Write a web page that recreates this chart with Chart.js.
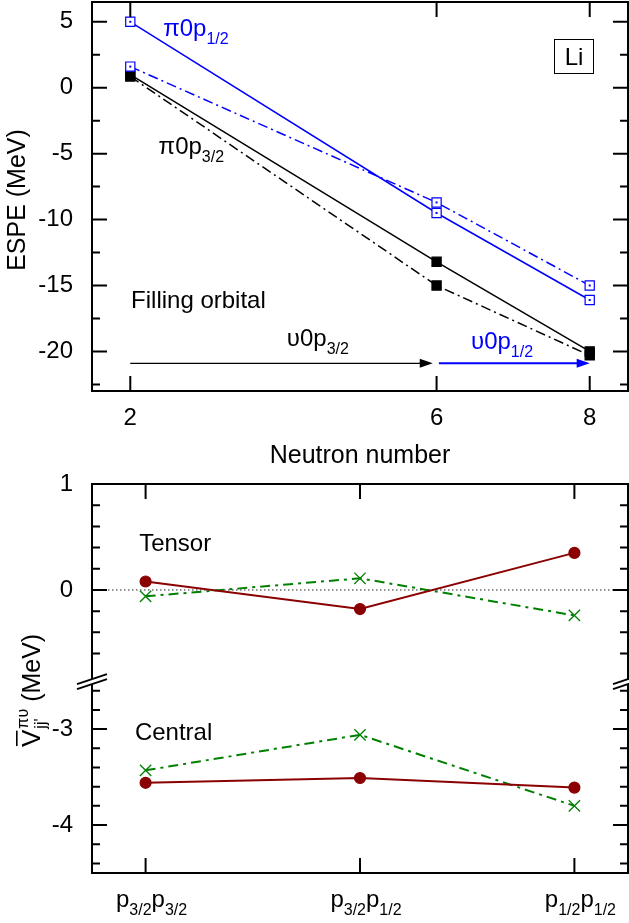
<!DOCTYPE html>
<html>
<head>
<meta charset="utf-8">
<script src="https://cdn.jsdelivr.net/npm/chart.js@4.4.1/dist/chart.umd.min.js"></script>
<style>
html, body { margin: 0; padding: 0; background: #fff; }
#wrap { position: relative; width: 629px; height: 923px; }
#top { position: absolute; left: 0; top: 0; }
#bottom { position: absolute; left: 0; top: 430px; }
</style>
</head>
<body>
<div id="wrap">
<canvas id="top" width="629" height="470"></canvas>
<canvas id="bottom" width="629" height="493"></canvas>
</div>
<script>
// Top panel: ESPE of Li vs neutron number
const neutronNumbers = [2, 6, 8];
const pi12Solid = [5.0, -9.5, -16.1];
const pi12DashDot = [1.6, -8.7, -15.0];
const pi32Solid = [1.0, -13.2, -20.0];
const pi32DashDot = [0.85, -15.0, -20.3];
const topXTicks = [2, 6, 8];
const topYTicks = [5, 0, -5, -10, -15, -20];
const topYMinor = [2.5, -2.5, -7.5, -12.5, -17.5, -22.5];

// Bottom panel: monopole matrix elements per orbital pair
const pairs = ['p_{3/2}p_{3/2}', 'p_{3/2}p_{1/2}', 'p_{1/2}p_{1/2}'];
const tensorSolid = [0.08, -0.18, 0.35];
const tensorDashDot = [-0.06, 0.11, -0.24];
const centralSolid = [-3.56, -3.51, -3.61];
const centralDashDot = [-3.43, -3.06, -3.80];
const tensorTicks = [1, 0];
const tensorMinor = [0.8, 0.6, 0.4, 0.2, -0.2, -0.4, -0.6];
const centralTicks = [-3, -4];
const centralMinor = [-2.6, -2.8, -3.2, -3.4, -3.6, -3.8, -4.2, -4.4];

const FONT = '"Liberation Sans", Arial, Helvetica, sans-serif';
const BLUE = '#0000ff', RED = '#8b0000', GREEN = '#008000';
Chart.defaults.font.family = FONT;
Chart.defaults.color = '#000';

const xy = (xs, ys) => xs.map((x, i) => ({ x: x, y: ys[i] }));
const pairIndex = pairs.map((p, i) => i);

function series(data, color, extra) {
    return Object.assign({
        data: data, showLine: true, borderColor: color, borderWidth: 1.5,
        pointBorderColor: color, pointBackgroundColor: color, pointBorderWidth: 1.2
    }, extra);
}

// text with _{sub} and ^{sup} parts
function drawRich(ctx, str, x, y, size, color, align) {
    const small = Math.round(size * 0.68);
    const parts = str.split(/(_\{[^}]*\}|\^\{[^}]*\})/).filter(s => s).map(s => {
        if (s.startsWith('_{')) return { t: s.slice(2, -1), k: 1 };
        if (s.startsWith('^{')) return { t: s.slice(2, -1), k: -1 };
        return { t: s, k: 0 };
    });
    let w = 0;
    parts.forEach(p => {
        ctx.font = (p.k ? small : size) + 'px ' + FONT;
        p.w = ctx.measureText(p.t).width;
        w += p.w;
    });
    let cx = align === 'center' ? x - w / 2 : x;
    ctx.save();
    ctx.fillStyle = color;
    ctx.textAlign = 'left';
    ctx.textBaseline = 'alphabetic';
    parts.forEach(p => {
        ctx.font = (p.k ? small : size) + 'px ' + FONT;
        const dy = p.k === 1 ? size * 0.33 : p.k === -1 ? -size * 0.45 : 0;
        ctx.fillText(p.t, cx, y + dy);
        cx += p.w;
    });
    ctx.restore();
}

function drawFrame(chart, xTicks, yAxes) {
    const ctx = chart.ctx, a = chart.chartArea, xs = chart.scales.x;
    ctx.save();
    ctx.strokeStyle = '#000';
    ctx.lineWidth = 2;
    ctx.strokeRect(a.left, a.top, a.right - a.left, a.bottom - a.top);
    ctx.beginPath();
    xTicks.forEach(v => {
        const px = xs.getPixelForValue(v);
        ctx.moveTo(px, a.bottom); ctx.lineTo(px, a.bottom - 15);
        ctx.moveTo(px, a.top); ctx.lineTo(px, a.top + 15);
    });
    yAxes.forEach(ax => {
        const mark = (v, len) => {
            const py = ax.s.getPixelForValue(v);
            ctx.moveTo(a.left, py); ctx.lineTo(a.left + len, py);
            ctx.moveTo(a.right, py); ctx.lineTo(a.right - len, py);
        };
        ax.major.forEach(v => mark(v, 15));
        ax.minor.forEach(v => mark(v, 8));
    });
    ctx.stroke();
    ctx.restore();
}

function arrow(ctx, x1, x2, y, color, w) {
    ctx.save();
    ctx.strokeStyle = color;
    ctx.fillStyle = color;
    ctx.lineWidth = w;
    ctx.beginPath();
    ctx.moveTo(x1, y); ctx.lineTo(x2 - 10, y);
    ctx.stroke();
    ctx.beginPath();
    ctx.moveTo(x2, y); ctx.lineTo(x2 - 13, y - 4.5); ctx.lineTo(x2 - 13, y + 4.5);
    ctx.closePath();
    ctx.fill();
    ctx.restore();
}

const topDecor = {
    id: 'topDecor',
    afterDraw(chart) {
        const ctx = chart.ctx, a = chart.chartArea;
        const xs = chart.scales.x, ys = chart.scales.y;
        const X = v => xs.getPixelForValue(v), Y = v => ys.getPixelForValue(v);
        drawFrame(chart, topXTicks, [{ s: ys, major: topYTicks, minor: topYMinor }]);
        // dot in the middle of the open squares
        ctx.fillStyle = BLUE;
        [0, 1].forEach(i => chart.getDatasetMeta(i).data.forEach(p => ctx.fillRect(p.x - 1, p.y - 1, 2, 2)));

        drawRich(ctx, '\u03c00p_{1/2}', X(2.43), Y(3.9), 24, BLUE);
        drawRich(ctx, '\u03c00p_{3/2}', X(2.37), Y(-5.0), 24, '#000');
        drawRich(ctx, 'Filling orbital', X(2.01), Y(-16.7), 24, '#000');
        drawRich(ctx, '\u03c50p_{3/2}', X(4.45), Y(-19.6), 24, '#000', 'center');
        drawRich(ctx, '\u03c50p_{1/2}', X(6.45), Y(-19.8), 24, BLUE);
        arrow(ctx, X(2), X(5.95), Y(-20.9), '#000', 1.3);
        arrow(ctx, X(6.03), X(8), Y(-20.9), BLUE, 2);

        // Li box
        ctx.save();
        ctx.strokeStyle = '#000';
        ctx.lineWidth = 1;
        ctx.strokeRect(a.right - 73.5, a.top + 37.5, 39, 34);
        ctx.fillStyle = '#000';
        ctx.font = '24px ' + FONT;
        ctx.textAlign = 'center';
        ctx.textBaseline = 'alphabetic';
        ctx.fillText('Li', a.right - 54, a.top + 63);
        // axis titles
        ctx.font = '25px ' + FONT;
        ctx.fillText('Neutron number', (a.left + a.right) / 2, 463);
        ctx.translate(25, 200);
        ctx.rotate(-Math.PI / 2);
        ctx.fillText('ESPE (MeV)', 0, 0);
        ctx.restore();
    }
};

new Chart(document.getElementById('top'), {
    type: 'scatter',
    data: {
        datasets: [
            series(xy(neutronNumbers, pi12Solid), BLUE, { pointStyle: 'rect', pointRadius: 6.5, pointBackgroundColor: '#fff' }),
            series(xy(neutronNumbers, pi12DashDot), BLUE, { borderDash: [10, 4, 2, 4], pointStyle: 'rect', pointRadius: 6.5, pointBackgroundColor: '#fff' }),
            series(xy(neutronNumbers, pi32Solid), '#000', { pointStyle: 'rect', pointRadius: 6.5 }),
            series(xy(neutronNumbers, pi32DashDot), '#000', { borderDash: [10, 4, 2, 4], pointStyle: 'rect', pointRadius: 6.5 })
        ]
    },
    options: {
        responsive: false,
        animation: false,
        devicePixelRatio: 1,
        layout: { autoPadding: false, padding: { top: 2, right: 1, left: 0, bottom: 0 } },
        plugins: { legend: { display: false }, tooltip: { enabled: false } },
        scales: {
            x: {
                type: 'linear', min: 1.5, max: 8.5,
                afterBuildTicks: s => { s.ticks = topXTicks.map(v => ({ value: v })); },
                afterFit: s => { s.height = 79; s.paddingLeft = 0; s.paddingRight = 0; },
                grid: { display: false, drawTicks: false },
                border: { display: false },
                ticks: { font: { size: 24 }, color: '#000', padding: 13, maxRotation: 0, autoSkip: false }
            },
            y: {
                type: 'linear', min: -23, max: 6.5,
                afterBuildTicks: s => { s.ticks = topYTicks.map(v => ({ value: v })); },
                afterFit: s => { s.width = 92; s.paddingTop = 0; s.paddingBottom = 0; },
                grid: { display: false, drawTicks: false },
                border: { display: false },
                ticks: { font: { size: 24 }, color: '#000', padding: 19, autoSkip: false }
            }
        }
    },
    plugins: [topDecor]
});

function breakMark(ctx, x0, yb) {
    ctx.save();
    ctx.fillStyle = '#fff';
    ctx.beginPath();
    ctx.moveTo(x0 - 15, yb + 3); ctx.lineTo(x0 + 15, yb - 7);
    ctx.lineTo(x0 + 15, yb - 2); ctx.lineTo(x0 - 15, yb + 8);
    ctx.closePath();
    ctx.fill();
    ctx.strokeStyle = '#000';
    ctx.lineWidth = 2;
    ctx.beginPath();
    ctx.moveTo(x0 - 15, yb + 3); ctx.lineTo(x0 + 15, yb - 7);
    ctx.moveTo(x0 - 15, yb + 8); ctx.lineTo(x0 + 15, yb - 2);
    ctx.stroke();
    ctx.restore();
}

const bottomDecor = {
    id: 'bottomDecor',
    beforeDatasetsDraw(chart) {
        const ctx = chart.ctx, a = chart.chartArea;
        const y0 = chart.scales.yT.getPixelForValue(0);
        ctx.save();
        ctx.strokeStyle = '#222';
        ctx.lineWidth = 1;
        ctx.setLineDash([1.5, 2.5]);
        ctx.beginPath();
        ctx.moveTo(a.left, y0); ctx.lineTo(a.right, y0);
        ctx.stroke();
        ctx.restore();
    },
    afterDraw(chart) {
        const ctx = chart.ctx, a = chart.chartArea;
        const xs = chart.scales.x, yT = chart.scales.yT, yC = chart.scales.yC;
        drawFrame(chart, pairIndex, [
            { s: yT, major: tensorTicks, minor: tensorMinor },
            { s: yC, major: centralTicks, minor: centralMinor }
        ]);
        const yb = yT.bottom;
        breakMark(ctx, a.left, yb);
        breakMark(ctx, a.right, yb);

        pairs.forEach((p, i) => drawRich(ctx, p, xs.getPixelForValue(i) + 6, a.bottom + 34, 24, '#000', 'center'));
        drawRich(ctx, 'Tensor', xs.getPixelForValue(-0.03), yT.getPixelForValue(0.37), 24, '#000');
        drawRich(ctx, 'Central', xs.getPixelForValue(-0.05), yC.getPixelForValue(-3.11), 24, '#000');

        // y title: V-bar with pi-upsilon superscript and jj' subscript
        ctx.save();
        ctx.translate(40, 747 - 430);
        ctx.rotate(-Math.PI / 2);
        ctx.fillStyle = '#000';
        ctx.textAlign = 'left';
        ctx.textBaseline = 'alphabetic';
        ctx.font = '26px ' + FONT;
        const vw = ctx.measureText('V').width;
        ctx.fillText('V', 0, 0);
        ctx.fillRect(1, -24, vw - 2, 1.6);
        ctx.font = '16px ' + FONT;
        ctx.fillText('\u03c0\u03c5', vw + 1, -12);
        ctx.fillText("jj'", vw + 1, 6);
        const sw = Math.max(ctx.measureText('\u03c0\u03c5').width, ctx.measureText("jj'").width);
        ctx.font = '25px ' + FONT;
        ctx.fillText('(MeV)', vw + sw + 8, 0);
        ctx.restore();
    }
};

const yCommon = {
    position: 'left', stack: 'v',
    grid: { display: false, drawTicks: false },
    border: { display: false },
    ticks: { font: { size: 24 }, color: '#000', padding: 19, autoSkip: false }
};

new Chart(document.getElementById('bottom'), {
    type: 'scatter',
    data: {
        datasets: [
            series(xy(pairIndex, tensorSolid), RED, { yAxisID: 'yT', borderWidth: 2, pointStyle: 'circle', pointRadius: 5.5 }),
            series(xy(pairIndex, tensorDashDot), GREEN, { yAxisID: 'yT', borderWidth: 2, borderDash: [10, 5, 3, 5], pointStyle: 'crossRot', pointRadius: 8, pointBorderWidth: 1.3 }),
            series(xy(pairIndex, centralSolid), RED, { yAxisID: 'yC', borderWidth: 2, pointStyle: 'circle', pointRadius: 5.5 }),
            series(xy(pairIndex, centralDashDot), GREEN, { yAxisID: 'yC', borderWidth: 2, borderDash: [10, 5, 3, 5], pointStyle: 'crossRot', pointRadius: 8, pointBorderWidth: 1.3 })
        ]
    },
    options: {
        responsive: false,
        animation: false,
        devicePixelRatio: 1,
        layout: { autoPadding: false, padding: { top: 54, right: 1, left: 0, bottom: 0 } },
        plugins: { legend: { display: false }, tooltip: { enabled: false } },
        scales: {
            x: {
                type: 'linear', min: -0.25, max: 2.25,
                afterBuildTicks: s => { s.ticks = pairIndex.map(v => ({ value: v })); },
                afterFit: s => { s.height = 50; s.paddingLeft = 0; s.paddingRight = 0; },
                grid: { display: false, drawTicks: false },
                border: { display: false },
                ticks: { display: false }
            },
            yT: Object.assign({}, yCommon, {
                type: 'linear', min: -0.86, max: 1, weight: 2, stackWeight: 196.6,
                afterBuildTicks: s => { s.ticks = tensorTicks.map(v => ({ value: v })); },
                afterFit: s => { s.width = 92; s.paddingTop = 0; s.paddingBottom = 0; }
            }),
            yC: Object.assign({}, yCommon, {
                type: 'linear', min: -4.5, max: -2.5, weight: 1, stackWeight: 191.4,
                afterBuildTicks: s => { s.ticks = centralTicks.map(v => ({ value: v })); },
                afterFit: s => { s.width = 92; s.paddingTop = 0; s.paddingBottom = 0; }
            })
        }
    },
    plugins: [bottomDecor]
});
</script>
</body>
</html>
